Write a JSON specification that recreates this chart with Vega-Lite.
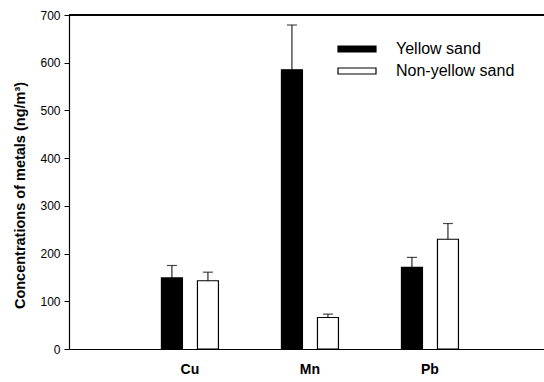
{
  "$schema": "https://vega.github.io/schema/vega-lite/v6.json",
  "width": 475,
  "height": 334,
  "autosize": {"type": "none"},
  "padding": {"left": 69, "top": 15, "right": 0, "bottom": 33},
  "background": "white",
  "config": {
    "view": {"stroke": null},
    "font": "Liberation Sans",
    "axis": {"grid": false, "domainColor": "black", "tickColor": "black", "labelColor": "black", "titleColor": "black", "domainWidth": 1.2}
  },
  "data": {
    "values": [
      {"metal": "Cu", "group": "Yellow sand", "value": 149, "upper": 175},
      {"metal": "Cu", "group": "Non-yellow sand", "value": 143, "upper": 161},
      {"metal": "Mn", "group": "Yellow sand", "value": 585, "upper": 679},
      {"metal": "Mn", "group": "Non-yellow sand", "value": 66, "upper": 73},
      {"metal": "Pb", "group": "Yellow sand", "value": 171, "upper": 192},
      {"metal": "Pb", "group": "Non-yellow sand", "value": 230, "upper": 263}
    ]
  },
  "layer": [
    {
      "mark": {"type": "bar", "stroke": "black", "strokeWidth": 1.2},
      "encoding": {
        "x": {
          "field": "metal", "type": "nominal", "sort": ["Cu", "Mn", "Pb"],
          "scale": {"paddingInner": 0, "paddingOuter": 0.479, "align": 0.53},
          "axis": {"title": null, "labelAngle": 0, "ticks": false, "labelFontSize": 14, "labelFontWeight": "bold", "labelPadding": 13}
        },
        "xOffset": {
          "field": "group", "type": "nominal", "sort": ["Yellow sand", "Non-yellow sand"],
          "scale": {"paddingInner": 0.417, "paddingOuter": 0.875}
        },
        "y": {
          "field": "value", "type": "quantitative",
          "scale": {"domain": [0, 700], "nice": false},
          "axis": {"title": "Concentrations of metals (ng/m³)", "values": [0, 100, 200, 300, 400, 500, 600, 700], "tickSize": 5, "labelFontSize": 12, "labelPadding": 4, "titleFontSize": 14.5, "titleFontWeight": "bold", "titlePadding": 12, "titleY": 180}
        },
        "fill": {
          "field": "group", "type": "nominal", "sort": ["Yellow sand", "Non-yellow sand"],
          "scale": {"domain": ["Yellow sand", "Non-yellow sand"], "range": ["black", "white"]},
          "legend": {
            "title": null, "orient": "none", "legendX": 268, "legendY": 23,
            "symbolType": "M-1,-0.158H1V0.158H-1Z", "symbolSize": 1444,
            "symbolStrokeColor": "black", "symbolStrokeWidth": 1.2,
            "labelFontSize": 16, "labelColor": "black", "labelOffset": 19,
            "clipHeight": 22, "rowPadding": 0, "padding": 0
          }
        }
      }
    },
    {
      "mark": {"type": "rule", "color": "black", "strokeWidth": 1},
      "encoding": {
        "x": {"field": "metal", "type": "nominal", "sort": ["Cu", "Mn", "Pb"]},
        "xOffset": {"field": "group", "type": "nominal", "sort": ["Yellow sand", "Non-yellow sand"]},
        "y": {"field": "value", "type": "quantitative"},
        "y2": {"field": "upper"}
      }
    },
    {
      "mark": {"type": "tick", "color": "black", "size": 10, "thickness": 1.2},
      "encoding": {
        "x": {"field": "metal", "type": "nominal", "sort": ["Cu", "Mn", "Pb"]},
        "xOffset": {"field": "group", "type": "nominal", "sort": ["Yellow sand", "Non-yellow sand"]},
        "y": {"field": "upper", "type": "quantitative"}
      }
    },
    {
      "mark": {"type": "rule", "color": "black", "strokeWidth": 1.2},
      "encoding": {"y": {"datum": 700}}
    }
  ]
}
